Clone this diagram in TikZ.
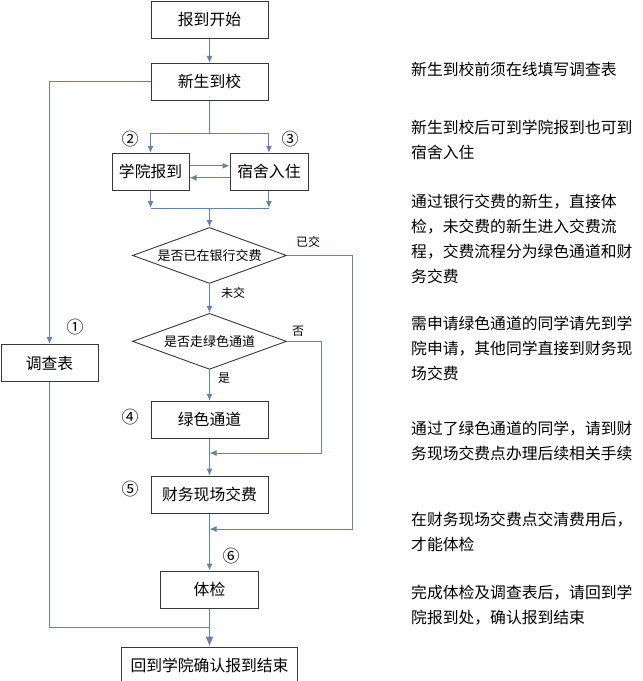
\documentclass[tikz,border=0pt]{standalone}
\usepackage{fontspec}
\setmainfont{Noto Sans CJK SC}
\usepackage{tikz}
\usetikzlibrary{positioning,arrows.meta,shapes.geometric}

\definecolor{lineblue}{RGB}{98,130,178}
\definecolor{boxgray}{RGB}{55,55,55}

\begin{document}
\begin{tikzpicture}[
x=1pt, y=1pt,
>={Latex[length=7pt,width=6pt]},
box/.style={
draw=boxgray,
line width=0.9pt,
minimum width=117pt,
minimum height=37pt,
align=center,
font=\fontsize{15.8pt}{19pt}\selectfont
},
decision/.style={
draw=boxgray,
line width=0.9pt,
diamond,
aspect=2.75,
inner sep=0pt,
minimum width=154pt,
minimum height=56pt,
font=\fontsize{13pt}{15pt}\selectfont
},
flow/.style={->,draw=lineblue,line width=1pt},
line/.style={draw=lineblue,line width=1pt},
lbl/.style={font=\fontsize{12pt}{14pt}\selectfont},
num/.style={font=\fontsize{17pt}{19pt}\selectfont},
note/.style={
anchor=west,
align=left,
inner sep=0pt,
font=\fontsize{15.8pt}{25pt}\selectfont
}
]

\useasboundingbox (0,0) rectangle (643,-681);

%%%%%%%%%%%%%%%%%%%%%%%%%%%%%%%%%%%%%%%%%%%%%
% Main Column
%%%%%%%%%%%%%%%%%%%%%%%%%%%%%%%%%%%%%%%%%%%%%

\node[box] (start) at (209.5,-20)
{报到开始};

\node[box,below=24pt of start] (arrive)
{新生到校};

\coordinate (split) at (209.5,-133);
\coordinate (merge) at (209.5,-208);

\node[box,minimum width=77pt,below=52pt of arrive.south west] (college)
{学院报到};

\node[box,minimum width=78pt,right=40pt of college] (dorm)
{宿舍入住};

\node[decision,below=19pt of merge] (bank)
{是否已在银行交费};

\node[decision,below=29pt of bank] (greenq)
{是否走绿色通道};

\node[box,below=31pt of greenq] (greenway)
{绿色通道};

\node[box,below=37pt of greenway] (fee)
{财务现场交费};

\node[box,minimum width=98pt,below=57pt of fee] (exam)
{体检};

\node[box,minimum width=176pt,below=38pt of exam] (finish)
{回到学院确认报到结束};

\node[box,minimum width=97pt] (survey) at (49.5,-363)
{调查表};

%%%%%%%%%%%%%%%%%%%%%%%%%%%%%%%%%%%%%%%%%%%%%
% Step Numbers and Labels
%%%%%%%%%%%%%%%%%%%%%%%%%%%%%%%%%%%%%%%%%%%%%

\node[num] (n1) at (75,-327) {①};
\node[num] (n2) at (130,-139) {②};
\node[num] (n3) at (290,-139) {③};
\node[num] (n4) at (130,-417) {④};
\node[num] (n5) at (130,-489) {⑤};
\node[num] (n6) at (231,-556) {⑥};

\node[lbl] (paidlbl) at (308,-242) {已交};
\node[lbl] (unpaidlbl) at (233,-293) {未交};
\node[lbl] (nolbl) at (298,-331) {否};
\node[lbl] (yeslbl) at (224,-378) {是};

%%%%%%%%%%%%%%%%%%%%%%%%%%%%%%%%%%%%%%%%%%%%%
% Connections
%%%%%%%%%%%%%%%%%%%%%%%%%%%%%%%%%%%%%%%%%%%%%

\coordinate (rail1) at (352,-529);
\coordinate (rail2) at (321,-453);
\coordinate (join1) at (209.5,-453);
\coordinate (join2) at (209.5,-529);
\coordinate (join3) at (209.5,-627);

\draw[flow] (start)--(arrive);

\draw[flow] (arrive.west) -| (survey);

\draw[line] (arrive)--(split);

\draw[flow] (split) -| (college);

\draw[flow] (split) -| (dorm);

\draw[flow] ([yshift=6pt]college.east)--([yshift=6pt]dorm.west);

\draw[flow] ([yshift=-6pt]dorm.west)--([yshift=-6pt]college.east);

\draw[flow] (college)--(college |- merge);

\draw[flow] (dorm)--(dorm |- merge);

\draw[line] (college |- merge)--(dorm |- merge);

\draw[flow] (merge)--(bank);

\draw[flow] (bank)--(greenq);

\draw[flow] (bank.east) -| (rail1)--(join2);

\draw[flow] (greenq)--(greenway);

\draw[flow] (greenq.east) -| (rail2)--(join1);

\draw[flow] (greenway)--(fee);

\draw[flow] (fee)--(exam);

\draw[line] (survey) |- (join3);

\draw[draw=lineblue,line width=1pt,-{Latex[length=10pt,width=8pt]}] (exam)--(finish);

%%%%%%%%%%%%%%%%%%%%%%%%%%%%%%%%%%%%%%%%%%%%%
% Notes
%%%%%%%%%%%%%%%%%%%%%%%%%%%%%%%%%%%%%%%%%%%%%

\node[note] (note1) at (411,-69)
{新生到校前须在线填写调查表};

\node[note] (note2) at (411,-140)
{新生到校后可到学院报到也可到\\宿舍入住};

\node[note] (note3) at (411,-238.5)
{通过银行交费的新生，直接体\\检，未交费的新生进入交费流\\程，交费流程分为绿色通道和财\\务交费};

\node[note] (note4) at (411,-348.5)
{需申请绿色通道的同学请先到学\\院申请，其他同学直接到财务现\\场交费};

\node[note] (note5) at (411,-440.5)
{通过了绿色通道的同学，请到财\\务现场交费点办理后续相关手续};

\node[note] (note6) at (411,-532)
{在财务现场交费点交清费用后，\\才能体检};

\node[note] (note7) at (411,-605.5)
{完成体检及调查表后，请回到学\\院报到处，确认报到结束};

\end{tikzpicture}
\end{document}
